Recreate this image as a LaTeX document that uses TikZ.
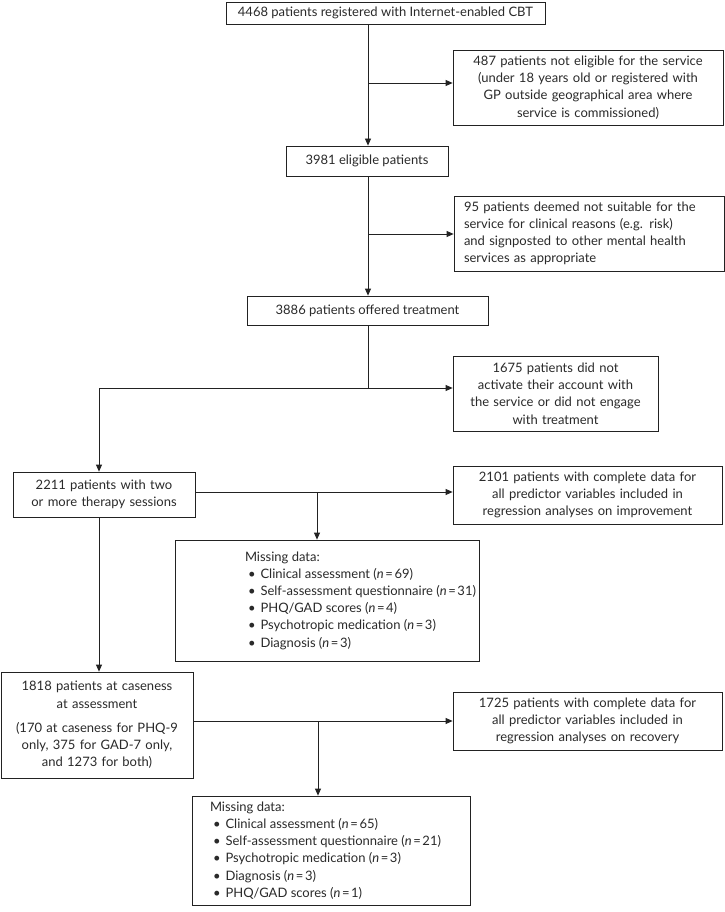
\documentclass[tikz,border=0pt]{standalone}
\usepackage{fontspec}
\setmainfont{Lato}
\usetikzlibrary{arrows.meta}
\definecolor{ink}{HTML}{222222}
\definecolor{txt}{HTML}{2a2a2a}
\newcommand\fs{\fontsize{13}{17.2}\selectfont}
\newcommand\nn[1]{(\textit{n}\kern1.6pt=\kern1.6pt#1)}
\newcommand\itm[1]{\mbox{\hspace*{3pt}\textbullet\hspace{5pt}#1}}
\begin{document}
\begin{tikzpicture}[x=1pt,y=-1pt,
  box/.style={draw=ink, line width=0.8pt, inner sep=0pt, align=center, text=txt, font=\fs},
  conn/.style={draw=ink, line width=0.8pt},
  arr/.style={conn, -{Triangle[length=7pt,width=6pt]}}]
\fill[white] (0,0) rectangle (724,912);
\useasboundingbox (0,0) rectangle (724,912);

\node[box, minimum width=319pt, minimum height=22pt] (b1) at (385.5,13) {4468 patients registered with Internet-enabled CBT};
\node[box, minimum width=270pt, minimum height=75pt, text width=264pt] (b487) at (588,87.5) {487 patients not eligible for the service\\(under 18 years old or registered with\\GP outside geographical area where\\service is commissioned)};
\node[box, minimum width=162pt, minimum height=30pt] (b3981) at (367,161) {3981 eligible patients};
\node[box, minimum width=270pt, minimum height=75pt, text width=250pt, align=left] (b95) at (589,233.5) {95 patients deemed not suitable for the\\service for clinical reasons (e.g. risk)\\and signposted to other mental health\\services as appropriate};
\node[box, minimum width=241pt, minimum height=29pt] (b3886) at (367.5,310.5) {3886 patients offered treatment};
\node[box, minimum width=205pt, minimum height=75pt, text width=201pt] (b1675) at (555.5,393.5) {1675 patients did not\\activate their account with\\the service or did not engage\\with treatment};
\node[box, minimum width=182pt, minimum height=45pt, text width=178pt] (b2211) at (104,494.5) {2211 patients with two\\or more therapy sessions};
\node[box, minimum width=269pt, minimum height=58pt, text width=265pt] (b2101) at (587.5,495) {2101 patients with complete data for\\all predictor variables included in\\regression analyses on improvement};
\node[box, minimum width=304pt, minimum height=121pt] (m1) at (327,600.5) {\hspace*{70pt}\parbox{234pt}{\raggedright\fs Missing data:\\
\itm{Clinical assessment \nn{69}}\\
\itm{Self-assessment questionnaire \nn{31}}\\
\itm{PHQ/GAD scores \nn{4}}\\
\itm{Psychotropic medication \nn{3}}\\
\itm{Diagnosis \nn{3}}}};
\node[box, minimum width=192pt, minimum height=106pt, text width=190pt] (b1818) at (97,725) {1818 patients at caseness\\at assessment\\[7pt](170 at caseness for PHQ-9\\only, 375 for GAD-7 only,\\and 1273 for both)};
\node[box, minimum width=269pt, minimum height=58pt, text width=265pt] (b1725) at (587.5,721) {1725 patients with complete data for\\all predictor variables included in\\regression analyses on recovery};
\node[box, minimum width=278pt, minimum height=109pt] (m2) at (331,850.5) {\hspace*{18pt}\parbox{260pt}{\raggedright\fs Missing data:\\
\itm{Clinical assessment \nn{65}}\\
\itm{Self-assessment questionnaire \nn{21}}\\
\itm{Psychotropic medication \nn{3}}\\
\itm{Diagnosis \nn{3}}\\
\itm{PHQ/GAD scores \nn{1}}}};

\coordinate (j1) at (368,83);
\coordinate (j2) at (368,234);
\coordinate (j3) at (368,388);
\coordinate (c3) at (99,388);
\coordinate (j4) at (317,492);
\coordinate (j5) at (318,721);

\draw[arr] (b1.south -| j1) -- (b3981.north -| j1);
\draw[arr] (j1) -- (b487.west |- j1);
\draw[arr] (b3981.south -| j2) -- (b3886.north -| j2);
\draw[arr] (j2) -- (b95.west |- j2);
\draw[conn] (b3886.south -| j3) -- (j3);
\draw[arr] (j3) -- (b1675.west |- j3);
\draw[arr] (j3) -- (c3) -- (b2211.north -| c3);
\draw[arr] (b2211.east |- j4) -- (b2101.west |- j4);
\draw[arr] (j4) -- (m1.north -| j4);
\draw[arr] (b2211.south -| c3) -- (b1818.north -| c3);
\draw[arr] (b1818.east |- j5) -- (b1725.west |- j5);
\draw[arr] (j5) -- (m2.north -| j5);
\end{tikzpicture}
\end{document}
